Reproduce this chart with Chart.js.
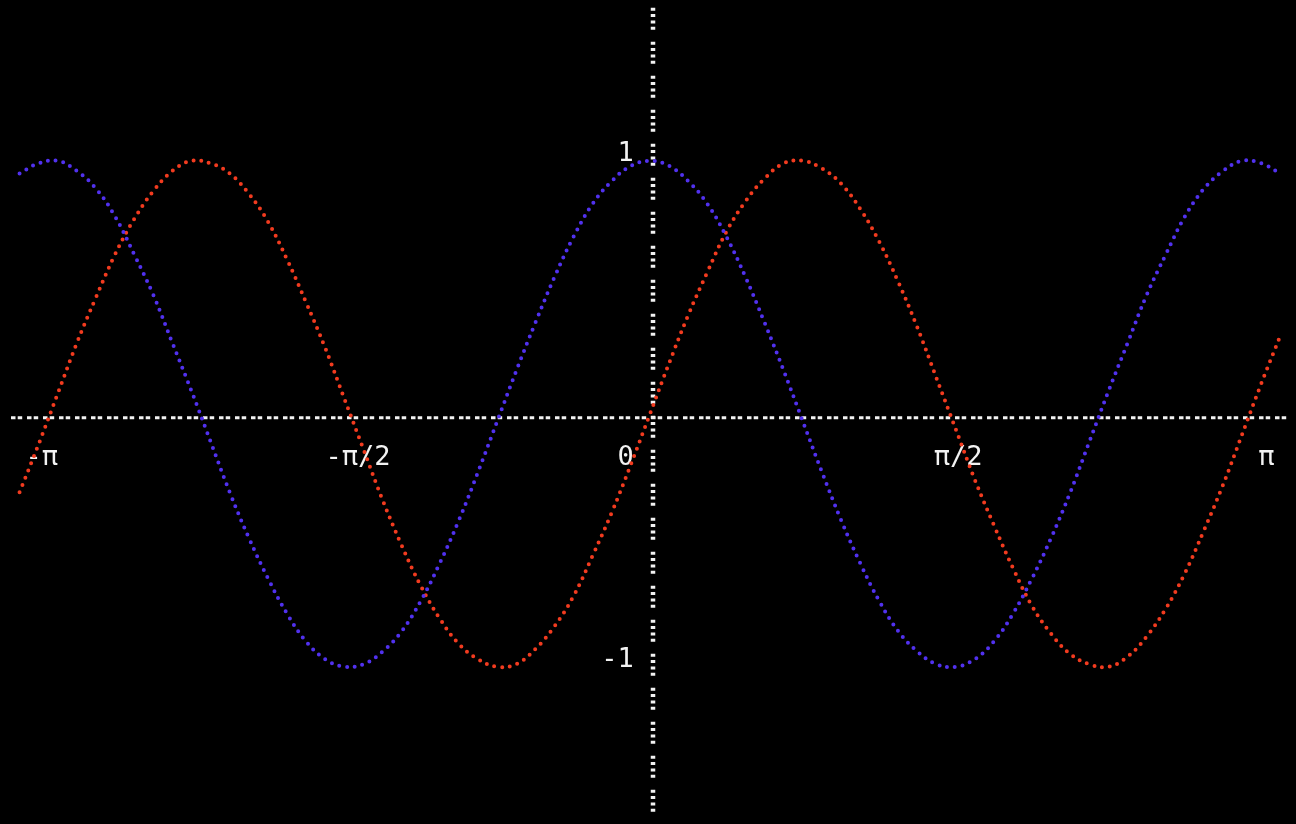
<!DOCTYPE html>
<html>
<head>
<meta charset="utf-8">
<script src="https://cdn.jsdelivr.net/npm/chart.js@4.4.1/dist/chart.umd.min.js"></script>
<style>
  html, body { margin: 0; padding: 0; background: #000; }
  #wrap { width: 1296px; height: 824px; position: relative; background: #000; }
</style>
</head>
<body>
<div id="wrap"><canvas id="c"></canvas></div>
<script>
// x positions (radians) of the sampled points
const xValues = [-3.3,-3.2,-3.1,-3.0,-2.9,-2.8,-2.7,-2.6,-2.5,-2.4,-2.3,-2.2,-2.1,-2.0,-1.9,-1.8,-1.7,-1.6,-1.5,-1.4,-1.3,-1.2,-1.1,-1.0,-0.9,-0.8,-0.7,-0.6,-0.5,-0.4,-0.3,-0.2,-0.1,0.0,0.1,0.2,0.3,0.4,0.5,0.6,0.7,0.8,0.9,1.0,1.1,1.2,1.3,1.4,1.5,1.6,1.7,1.8,1.9,2.0,2.1,2.2,2.3,2.4,2.5,2.6,2.7,2.8,2.9,3.0,3.1,3.2,3.3];
// red series
const redValues = [-0.31,-0.12,0.08,0.28,0.46,0.63,0.77,0.88,0.96,1.00,0.99,0.95,0.87,0.76,0.61,0.44,0.26,0.06,-0.14,-0.34,-0.52,-0.68,-0.81,-0.91,-0.97,-1.00,-0.99,-0.93,-0.84,-0.72,-0.56,-0.39,-0.20,0.00,0.20,0.39,0.56,0.72,0.84,0.93,0.99,1.00,0.97,0.91,0.81,0.68,0.52,0.34,0.14,-0.06,-0.26,-0.44,-0.61,-0.76,-0.87,-0.95,-0.99,-1.00,-0.96,-0.88,-0.77,-0.63,-0.46,-0.28,-0.08,0.12,0.31];
// blue series
const blueValues = [0.95,0.99,1.00,0.96,0.89,0.78,0.63,0.47,0.28,0.09,-0.11,-0.31,-0.49,-0.65,-0.79,-0.90,-0.97,-1.00,-0.99,-0.94,-0.86,-0.74,-0.59,-0.42,-0.23,-0.03,0.17,0.36,0.54,0.70,0.83,0.92,0.98,1.00,0.98,0.92,0.83,0.70,0.54,0.36,0.17,-0.03,-0.23,-0.42,-0.59,-0.74,-0.86,-0.94,-0.99,-1.00,-0.97,-0.90,-0.79,-0.65,-0.49,-0.31,-0.11,0.09,0.28,0.47,0.63,0.78,0.89,0.96,1.00,0.99,0.95];
// tick values and labels
const xTickValues = [-3.14159, -1.5708, 0, 1.5708, 3.14159];
const xTickLabels = ['-π', '-π/2', '0', 'π/2', 'π'];
const yTickValues = [-1, 1];
const yTickLabels = ['-1', '1'];

const RED = '#f23b1f';
const BLUE = '#5131ef';
const WHITE = '#f2f2f2';
const FONT = { family: "'DejaVu Sans Mono', 'Liberation Mono', monospace", size: 27 };

// visual nudges of tick labels (in monospace character cells), as in the reference
const xLabelPad = [' ', ' ', '   ', ' ', '  '];

function pts(vals) { return xValues.map((x, i) => ({ x: x, y: vals[i] })); }

function noReserve(scale) {
  scale.paddingTop = 0; scale.paddingBottom = 0;
  scale.paddingLeft = 0; scale.paddingRight = 0;
  if (scale.isHorizontal()) scale.height = 0; else scale.width = 0;
}

const axesPlugin = {
  id: 'dottedAxes',
  beforeDatasetsDraw(chart) {
    const { ctx, chartArea, scales } = chart;
    const y0 = scales.y.getPixelForValue(0) + 4;
    const x0 = scales.x.getPixelForValue(0) + 3;
    ctx.save();
    ctx.strokeStyle = WHITE;
    ctx.lineCap = 'butt';
    // horizontal axis
    ctx.lineWidth = 3;
    ctx.setLineDash([4.5, 2.2, 4.5, 4.8]);
    ctx.lineDashOffset = 15;
    ctx.beginPath();
    ctx.moveTo(chartArea.left, y0);
    ctx.lineTo(chartArea.right - 3, y0);
    ctx.stroke();
    // vertical axis
    ctx.lineWidth = 4.5;
    ctx.setLineDash([3, 3.3, 3, 3.3, 3, 3.3, 3, 12.1]);
    ctx.lineDashOffset = 0;
    ctx.beginPath();
    ctx.moveTo(x0, chartArea.top - 1.2);
    ctx.lineTo(x0, chartArea.bottom + 1);
    ctx.stroke();
    ctx.restore();
  }
};

const dotted = (color, vals) => ({
  data: pts(vals),
  showLine: true,
  borderColor: color,
  borderWidth: 4,
  borderCapStyle: 'round',
  borderDash: [0, 7.8],
  pointRadius: 0,
  pointHoverRadius: 0,
  tension: 0.4,
  fill: false
});

new Chart(document.getElementById('c'), {
  type: 'scatter',
  data: {
    datasets: [dotted(BLUE, blueValues), dotted(RED, redValues)]
  },
  plugins: [axesPlugin],
  options: {
    responsive: true,
    maintainAspectRatio: false,
    animation: false,
    events: [],
    layout: { padding: { left: 10, right: 6, top: 9, bottom: 13 } },
    plugins: { legend: { display: false }, tooltip: { enabled: false }, title: { display: false } },
    scales: {
      x: {
        type: 'linear',
        min: -3.35,
        max: 3.35,
        position: { y: 0 },
        grid: { display: false, drawTicks: false },
        border: { display: false },
        afterBuildTicks(scale) { scale.ticks = xTickValues.map(v => ({ value: v })); },
        afterFit: noReserve,
        ticks: {
          autoSkip: false,
          maxRotation: 0,
          padding: 28,
          color: WHITE,
          font: FONT,
          callback(value, index) {
            const pad = xLabelPad[index];
            const lab = xTickLabels[index];
            if (index === 0 || index === 2) return lab + pad;
            return pad + lab;
          }
        }
      },
      y: {
        type: 'linear',
        min: -1.57,
        max: 1.6,
        position: { x: 0 },
        grid: { display: false, drawTicks: false },
        border: { display: false },
        afterBuildTicks(scale) { scale.ticks = yTickValues.map(v => ({ value: v })); },
        afterFit: noReserve,
        ticks: {
          padding: 18,
          labelOffset: -7,
          color: WHITE,
          font: FONT,
          callback(value, index) { return yTickLabels[index] + ' '; }
        }
      }
    }
  }
});
</script>
</body>
</html>
